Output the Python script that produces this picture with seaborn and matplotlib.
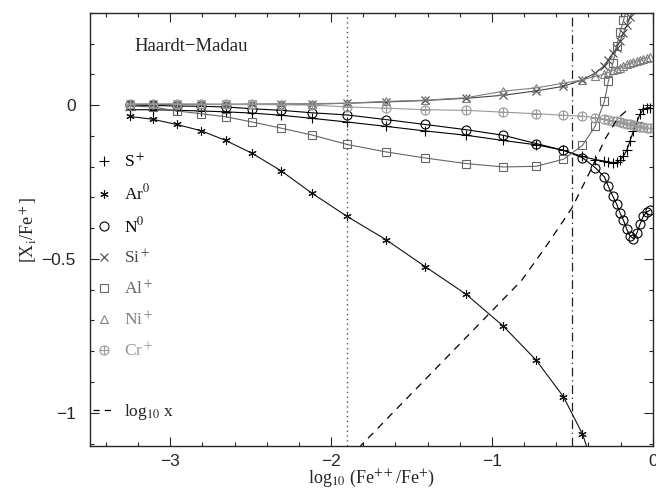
import matplotlib
matplotlib.use("Agg")
import matplotlib.pyplot as plt
from matplotlib.lines import Line2D
from matplotlib.path import Path
from matplotlib.ticker import MultipleLocator
import seaborn as sns

# model grid: log10(Fe++/Fe+)
log_ratio = [-3.25, -3.11, -2.96, -2.81, -2.655, -2.49, -2.31, -2.12, -1.90, -1.66,
             -1.415, -1.16, -0.93, -0.725, -0.555, -0.437, -0.358, -0.30, -0.276,
             -0.248, -0.224, -0.203, -0.182, -0.161, -0.141, -0.120, -0.099, -0.079,
             -0.058, -0.037, -0.017]

s_plus = [-0.015, -0.015, -0.017, -0.019, -0.022, -0.026, -0.033, -0.043, -0.055, -0.069,
          -0.084, -0.098, -0.115, -0.129, -0.147, -0.167, -0.177, -0.182, -0.185,
          -0.187, -0.186, -0.179, -0.166, -0.146, -0.116, -0.085, -0.055, -0.030,
          -0.014, -0.009, -0.008]

ar_0 = [-0.037, -0.046, -0.063, -0.083, -0.115, -0.157, -0.214, -0.286, -0.362, -0.437,
        -0.525, -0.615, -0.718, -0.829, -0.948, -1.069, -1.19]

n_0 = [0.0, -0.001, -0.003, -0.004, -0.006, -0.012, -0.017, -0.025, -0.032, -0.047,
       -0.063, -0.080, -0.098, -0.125, -0.147, -0.171, -0.203, -0.234, -0.264,
       -0.296, -0.322, -0.351, -0.374, -0.404, -0.425, -0.434, -0.417, -0.387,
       -0.361, -0.347, -0.342]

si_plus = [0.002, 0.002, 0.002, 0.002, 0.002, 0.002, 0.003, 0.003, 0.006, 0.010,
           0.015, 0.022, 0.032, 0.046, 0.061, 0.082, 0.104, 0.128, 0.148,
           0.168, 0.187, 0.208, 0.233, 0.259, 0.285, 0.311]

al_plus = [-0.003, -0.006, -0.019, -0.028, -0.038, -0.055, -0.075, -0.097, -0.128, -0.152,
           -0.172, -0.190, -0.201, -0.199, -0.176, -0.131, -0.069, 0.013, 0.077,
           0.136, 0.193, 0.236, 0.275, 0.315]

ni_plus = [0.003, 0.003, 0.003, 0.003, 0.003, 0.004, 0.004, 0.005, 0.006, 0.012,
           0.016, 0.024, 0.045, 0.056, 0.071, 0.082, 0.093, 0.101, 0.106,
           0.113, 0.118, 0.122, 0.127, 0.132, 0.137, 0.140, 0.143, 0.147,
           0.150, 0.153, 0.156]

cr_plus = [0.004, 0.004, 0.004, 0.003, 0.002, 0.002, 0.001, 0.0, -0.006, -0.010,
           -0.015, -0.017, -0.023, -0.028, -0.033, -0.036, -0.041, -0.045, -0.048,
           -0.051, -0.053, -0.056, -0.058, -0.060, -0.063, -0.065, -0.068, -0.070,
           -0.072, -0.074, -0.076]

# dashed reference curve (log10 x)
logx_x = [-1.83, -1.015, -0.814, -0.658, -0.503, -0.389, -0.296, -0.22, -0.161]
logx_y = [-1.115, -0.677, -0.569, -0.455, -0.335, -0.215, -0.110, -0.045, -0.017]

vline_dotted = -1.9
vline_dashdot = -0.5

# circle with a cross through it (the oplus symbol)
oplus = Path.make_compound_path(
    Path.unit_circle(),
    Path([[-1, 0], [1, 0]], [Path.MOVETO, Path.LINETO]),
    Path([[0, -1], [0, 1]], [Path.MOVETO, Path.LINETO]),
)

series = [
    ("S$^+$", s_plus, "+", "#000000", 7),
    ("Ar$^0$", ar_0, (6, 2, 0), "#111111", 6),
    ("N$^0$", n_0, "o", "#000000", 6.5),
    ("Si$^+$", si_plus, "x", "#444444", 5.5),
    ("Al$^+$", al_plus, "s", "#666666", 5.5),
    ("Ni$^+$", ni_plus, "^", "#808080", 6),
    ("Cr$^+$", cr_plus, oplus, "#999999", 6.5),
]

sns.set_style("ticks")
plt.rcParams["font.family"] = ["Liberation Serif", "DejaVu Serif"]
plt.rcParams["mathtext.fontset"] = "stix"
plt.rcParams["axes.linewidth"] = 1.0

fig = plt.figure(figsize=(6.56, 4.92), dpi=100)
ax = fig.add_axes([0.137, 0.0935, 0.858, 0.8805])

for label, yvals, marker, color, ms in series:
    n = len(yvals)
    sns.lineplot(x=log_ratio[:n], y=yvals, ax=ax, color=color, lw=0.8,
                 marker=marker, markersize=ms, markerfacecolor="none",
                 markeredgecolor=color, markeredgewidth=0.8, legend=False)

sns.lineplot(x=logx_x, y=logx_y, ax=ax, color="black", lw=0.9,
             linestyle=(0, (6, 5)), legend=False)

ax.axvline(vline_dotted, color="#555555", lw=1.0, ls=(0, (1, 2.5)))
ax.axvline(vline_dashdot, color="#222222", lw=0.9, ls=(0, (7, 3, 1, 3)))

ax.set_xlim(-3.5, 0)
ax.set_ylim(-1.108, 0.3)
ax.xaxis.set_minor_locator(MultipleLocator(0.2))
ax.set_yticks([-1, -0.5, 0])
ax.set_yticklabels(["\u22121", "\u22120.5", "0"])
ax.set_xticks([-3, -2, -1, 0])
ax.set_xticklabels(["\u22123", "\u22122", "\u22121", "0"])
ax.yaxis.set_minor_locator(MultipleLocator(0.1))
ax.tick_params(which="both", direction="in", top=True, right=True, width=0.8)
ax.tick_params(which="major", length=6.7)
ax.tick_params(which="minor", length=3.1)
ax.tick_params(axis="y", pad=10)
ax.tick_params(axis="x", pad=6)
for t in ax.get_xticklabels() + ax.get_yticklabels():
    t.set_fontfamily(["Liberation Sans", "DejaVu Sans"])
    t.set_fontsize(12.5)

ax.set_xlabel("log$_{10}$ (Fe$^{++}$/Fe$^{+}$)", fontsize=13, labelpad=-1)
ax.set_ylabel("[X$_{\\rm i}$/Fe$^+$]", fontsize=13, labelpad=1)

ax.text(0.08, 0.923, "Haardt\u2212Madau", transform=ax.transAxes,
        fontsize=13.5, va="center", ha="left")

# legend
handles = [Line2D([], [], ls="none", marker=m, color=c, mfc="none", mec=c,
                  mew=0.8, ms=ms) for _, _, m, c, ms in series]
labels = [s[0] for s in series]
handles.append(Line2D([], [], ls="none"))
labels.append("")
handles.append(Line2D([], [], color="black", lw=0.9, ls=(0, (5, 4))))
labels.append("log$_{10}$ x")
leg = ax.legend(handles, labels, loc="upper left", bbox_to_anchor=(0.005, 0.677),
                frameon=False, fontsize=12.5, handlelength=1.3, handletextpad=0.5,
                labelspacing=0.72, borderpad=0, borderaxespad=0)
for txt, (_, _, _, c, _) in zip(leg.get_texts(), series):
    txt.set_color(c)

fig.savefig("out.png", dpi=100)
